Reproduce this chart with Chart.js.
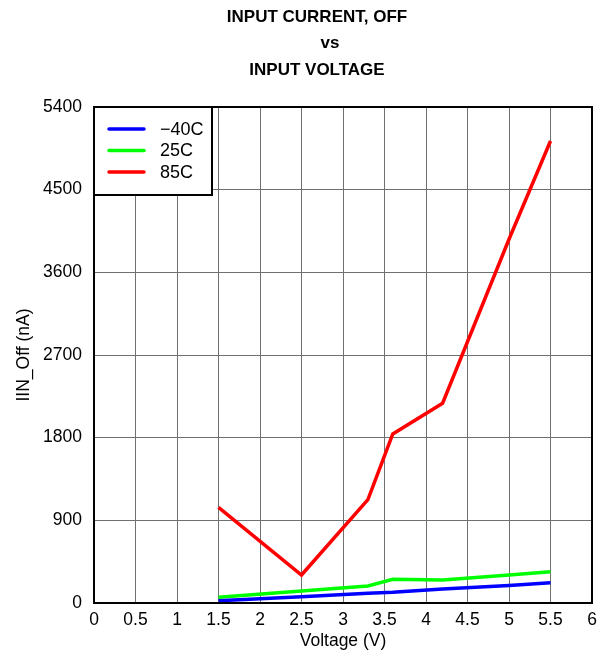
<!DOCTYPE html>
<html>
<head>
<meta charset="utf-8">
<script src="https://cdn.jsdelivr.net/npm/chart.js@4.4.0/dist/chart.umd.min.js"></script>
<style>
  html, body { margin: 0; padding: 0; background: #fff; }
  #wrap { width: 610px; height: 656px; }
</style>
</head>
<body>
<div id="wrap"><canvas id="ioffChart" width="610" height="656"></canvas></div>
<script>
// datos
const voltages = [1.5, 2.5, 3.3, 3.6, 4.2, 5.0, 5.5];
const iinMinus40 = [25, 69, 105, 116, 152, 190, 221];
const iin25 = [62, 130, 185, 258, 250, 305, 341];
const iin85 = [1040, 305, 1125, 1840, 2175, 3960, 5030];
const seriesLabels = ["\u221240C", "25C", "85C"];
const seriesColors = ["#0000ff", "#00ff00", "#ff0000"];
const titleLines = ["INPUT CURRENT, OFF", "vs", "INPUT VOLTAGE"];
const yTicks = [0, 900, 1800, 2700, 3600, 4500, 5400];

const FONT = "'Liberation Sans', Arial, sans-serif";

function toPoints(vals) {
    return voltages.map((v, i) => ({ x: v, y: vals[i] }));
}

// titulo, borde del area y leyenda con recuadro
const extras = {
    id: "extras",
    afterDraw(chart) {
        const { ctx, chartArea: a } = chart;
        ctx.save();
        ctx.fillStyle = "#000";
        ctx.font = "bold 17px " + FONT;
        ctx.textAlign = "center";
        ctx.textBaseline = "middle";
        const titleX = [317, 330, 317];
        titleLines.forEach((t, i) => ctx.fillText(t, titleX[i], 17 + i * 26.5));

        ctx.strokeStyle = "#000";
        ctx.lineWidth = 2;
        ctx.strokeRect(a.left, a.top, a.right - a.left, a.bottom - a.top);

        // leyenda
        const lx = a.left, ly = a.top, lw = 118, lh = 88;
        ctx.fillStyle = "#fff";
        ctx.fillRect(lx, ly, lw, lh);
        ctx.strokeRect(lx, ly, lw, lh);
        ctx.font = "18px " + FONT;
        ctx.textAlign = "left";
        chart.data.datasets.forEach((ds, i) => {
            const y = ly + 22 + i * 21.5;
            ctx.strokeStyle = ds.borderColor;
            ctx.lineWidth = 3.5;
            ctx.lineCap = "round";
            ctx.beginPath();
            ctx.moveTo(lx + 15, y);
            ctx.lineTo(lx + 50, y);
            ctx.stroke();
            ctx.fillStyle = "#000";
            ctx.fillText(ds.label, lx + 66, y + 1);
        });
        ctx.restore();
    },
};

new Chart(document.getElementById("ioffChart"), {
    type: "line",
    data: {
        datasets: [iinMinus40, iin25, iin85].map((vals, i) => ({
            label: seriesLabels[i],
            data: toPoints(vals),
            borderColor: seriesColors[i],
            backgroundColor: seriesColors[i],
            borderWidth: 3.5,
            pointRadius: 0,
            tension: 0,
        })),
    },
    options: {
        responsive: false,
        animation: false,
        devicePixelRatio: 1,
        layout: { padding: { top: 107, right: 18, left: 0, bottom: 0 } },
        plugins: {
            legend: { display: false },
            title: { display: false },
            tooltip: { enabled: false },
        },
        scales: {
            x: {
                type: "linear",
                min: 0,
                max: 6,
                afterFit: (s) => { s.height = 53; },
                ticks: {
                    stepSize: 0.5,
                    color: "#000",
                    font: { family: FONT, size: 17.5 },
                    padding: 7,
                    maxRotation: 0,
                    callback: (v) => String(v),
                },
                grid: { color: "#707070", lineWidth: 1, drawTicks: false },
                border: { color: "#000", width: 2 },
                title: {
                    display: true,
                    text: "Voltage (V)",
                    color: "#000",
                    font: { family: FONT, size: 17.5 },
                    padding: { top: 0, bottom: 4 },
                },
            },
            y: {
                min: 0,
                max: 5400,
                afterFit: (s) => { s.width = 94; },
                afterBuildTicks: (s) => { s.ticks = yTicks.map((v) => ({ value: v })); },
                ticks: {
                    color: "#000",
                    font: { family: FONT, size: 17.5 },
                    padding: 12,
                    callback: (v) => String(v),
                },
                grid: { color: "#707070", lineWidth: 1, drawTicks: false },
                border: { color: "#000", width: 2 },
                title: {
                    display: true,
                    text: "IIN_Off (nA)",
                    color: "#000",
                    font: { family: FONT, size: 17.5 },
                    padding: { top: 14, bottom: 0 },
                },
            },
        },
    },
    plugins: [extras],
});
</script>
</body>
</html>
